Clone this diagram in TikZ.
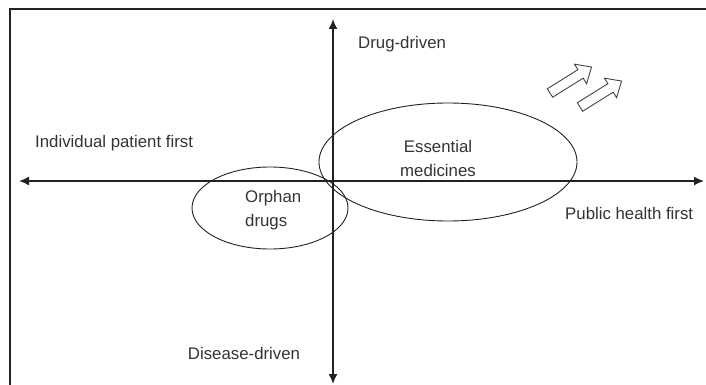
\documentclass[tikz,border=0pt]{standalone}
\usepackage{fontspec}
\setmainfont{Liberation Sans}
\usetikzlibrary{arrows.meta,shapes.geometric}
\definecolor{ink}{HTML}{222222}
\definecolor{txt}{HTML}{333333}
\tikzset{
  lbl/.style={inner sep=0pt, text=txt, font=\fontsize{16.8}{24}\selectfont},
  axis/.style={draw=ink, line width=1.6pt, -{Latex[length=10pt,width=9pt]}},
  oval/.style={draw=ink, line width=0.9pt, ellipse, inner sep=0pt},
  frame/.style={draw=ink, line width=1.5pt},
  blockarrow/.style={draw=ink!85, line width=0.9pt, fill=white, line join=miter}
}
\begin{document}
\begin{tikzpicture}[x=1pt,y=-1pt]
\useasboundingbox (0,0) rectangle (706,385);
% frame (top and left only)
\coordinate (ftr) at (706,9);
\coordinate (ftl) at (10,9);
\coordinate (fbl) at (10,385);
\draw[frame] (ftr) -- (ftl) -- (fbl);
% axes
\coordinate (o) at (333,181);
\coordinate (top) at (333,19);
\coordinate (bot) at (333,384);
\coordinate (lft) at (19,181);
\coordinate (rgt) at (704,181);
\draw[axis] (o) -- (top);
\draw[axis] (o) -- (bot);
\draw[axis] (o) -- (lft);
\draw[axis] (o) -- (rgt);
% ellipses
\node[oval, minimum width=258pt, minimum height=118pt] (ess) at (448,162) {};
\node[oval, minimum width=156pt, minimum height=82pt] (orph) at (270,208) {};
% labels
\node[lbl, align=center] (esst) at (438,158) {Essential\\medicines};
\node[lbl, align=left, anchor=west] (orpht) at (245,210) {Orphan\\drugs};
\node[lbl, anchor=west] (dd) at (358,44) {Drug-driven};
\node[lbl, anchor=west] (ipf) at (35,143) {Individual patient first};
\node[lbl, anchor=west] (phf) at (565,213) {Public health first};
\node[lbl] (dis) at (244,353) {Disease-driven};
% open block arrows
\foreach \n/\px/\py in {a1/550/93, a2/580/107}{
  \begin{scope}[shift={(\px,\py)}, rotate=32]
    \draw[blockarrow] (0,-5) -- (36,-5) -- (36,-11.5) -- (49,0) -- (36,11.5) -- (36,5) -- (0,5) -- cycle;
  \end{scope}
}
\end{tikzpicture}
\end{document}
